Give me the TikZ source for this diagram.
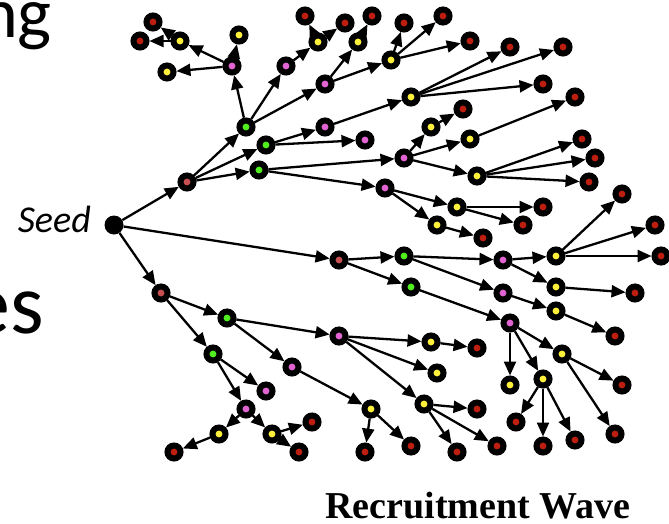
\documentclass[tikz,border=0pt]{standalone}
\usepackage{fontspec}
\usepackage{tikz}
\usetikzlibrary{arrows.meta,positioning}
\setmainfont{Carlito}
\newfontfamily\titlefont{Liberation Serif}
\definecolor{dotred}{RGB}{190,30,15}
\definecolor{dotyellow}{RGB}{255,240,60}
\definecolor{dotpink}{RGB}{225,100,210}
\definecolor{dotgreen}{RGB}{80,240,30}
\definecolor{dotrose}{RGB}{200,80,80}
\tikzset{
  dot/.style={circle, draw=black, line width=6pt, minimum size=13pt, inner sep=0pt},
  rosedot/.style={dot, fill=dotrose},
  greendot/.style={dot, fill=dotgreen},
  pinkdot/.style={dot, fill=dotpink},
  yellowdot/.style={dot, fill=dotyellow},
  reddot/.style={dot, fill=dotred},
  seeddot/.style={circle, fill=black, minimum size=19pt, inner sep=0pt},
  link/.style={-{Triangle[length=14pt,width=12pt]}, line width=2.3pt}
}

\begin{document}
\begin{tikzpicture}[x=1pt, y=-1pt]
    \useasboundingbox (0,0) rectangle (669,523);
    % slide text cut off at the left
    \node[anchor=base east, inner sep=0pt, font=\fontsize{72}{72}\selectfont] (ngtext) at (52,37) {ng};
    \node[anchor=base east, inner sep=0pt, font=\fontsize{86}{86}\selectfont] (estext) at (44,333) {es};
    % seed
    \node[seeddot] (s) at (114,225) {};
    \node[anchor=base east, inner sep=0pt, font=\itshape\fontsize{38}{38}\selectfont] (seedlabel) at (91,232) {Seed};
    % wave 1
    \node[rosedot] (a) at (187,182) {};
    \node[rosedot] (b) at (339,260) {};
    \node[rosedot] (c) at (161,293) {};
    % wave 2
    \node[greendot] (a1) at (246,127) {};
    \node[greendot] (a2) at (266,145) {};
    \node[greendot] (a3) at (259,170) {};
    \node[greendot] (b1) at (404,256) {};
    \node[greendot] (b2) at (411,287) {};
    \node[greendot] (c1) at (227,318) {};
    \node[greendot] (c2) at (213,354) {};
    % wave 3
    \node[pinkdot] (a1a) at (232,66) {};
    \node[pinkdot] (a1b) at (286,66) {};
    \node[pinkdot] (a1c) at (325,84) {};
    \node[pinkdot] (a2a) at (325,127) {};
    \node[pinkdot] (a2b) at (365,140) {};
    \node[pinkdot] (a3a) at (404,158) {};
    \node[pinkdot] (a3b) at (385,188) {};
    \node[pinkdot] (b1a) at (503,260) {};
    \node[pinkdot] (b1b) at (503,293) {};
    \node[pinkdot] (b2a) at (510,323) {};
    \node[pinkdot] (c1a) at (339,336) {};
    \node[pinkdot] (c1b) at (292,367) {};
    \node[pinkdot] (c2a) at (266,391) {};
    \node[pinkdot] (c2b) at (246,409) {};
    % wave 4
    \node[yellowdot] (a1a1) at (239,35) {};
    \node[yellowdot] (a1a2) at (180,41) {};
    \node[yellowdot] (a1a3) at (167,72) {};
    \node[yellowdot] (a1b1) at (318,42) {};
    \node[yellowdot] (a1c1) at (358,42) {};
    \node[yellowdot] (a1c2) at (391,60) {};
    \node[yellowdot] (a2a1) at (411,97) {};
    \node[yellowdot] (a3a1) at (431,127) {};
    \node[yellowdot] (a3a2) at (470,139) {};
    \node[yellowdot] (a3a3) at (477,176) {};
    \node[yellowdot] (a3b1) at (457,207) {};
    \node[yellowdot] (a3b2) at (437,225) {};
    \node[yellowdot] (b1a1) at (556,256) {};
    \node[yellowdot] (b1a2) at (556,287) {};
    \node[yellowdot] (b1b1) at (556,311) {};
    \node[yellowdot] (b2a1) at (510,385) {};
    \node[yellowdot] (b2a2) at (543,379) {};
    \node[yellowdot] (b2a3) at (562,354) {};
    \node[yellowdot] (c1a1) at (431,342) {};
    \node[yellowdot] (c1a2) at (437,373) {};
    \node[yellowdot] (c1a3) at (424,404) {};
    \node[yellowdot] (c1b1) at (371,409) {};
    \node[yellowdot] (c2b1) at (219,434) {};
    \node[yellowdot] (c2b2) at (272,434) {};
    % wave 5
    \node[reddot] (a1a2a) at (140,41) {};
    \node[reddot] (a1a2b) at (153,22) {};
    \node[reddot] (a1b1a) at (305,16) {};
    \node[reddot] (a1b1b) at (345,23) {};
    \node[reddot] (a1c1a) at (372,16) {};
    \node[reddot] (a1c2a) at (404,23) {};
    \node[reddot] (a1c2b) at (443,16) {};
    \node[reddot] (a1c2c) at (470,41) {};
    \node[reddot] (a2a1a) at (510,47) {};
    \node[reddot] (a2a1b) at (563,47) {};
    \node[reddot] (a2a1c) at (543,84) {};
    \node[reddot] (a3a1a) at (463,109) {};
    \node[reddot] (a3a2a) at (575,97) {};
    \node[reddot] (a3a3a) at (582,139) {};
    \node[reddot] (a3a3b) at (595,158) {};
    \node[reddot] (a3a3c) at (589,182) {};
    \node[reddot] (a3b1a) at (543,207) {};
    \node[reddot] (a3b1b) at (523,225) {};
    \node[reddot] (a3b2a) at (483,238) {};
    \node[reddot] (b1a1a) at (622,194) {};
    \node[reddot] (b1a1b) at (655,225) {};
    \node[reddot] (b1a1c) at (661,256) {};
    \node[reddot] (b1a2a) at (635,293) {};
    \node[reddot] (b1b1a) at (615,336) {};
    \node[reddot] (b2a2a) at (516,422) {};
    \node[reddot] (b2a2b) at (543,446) {};
    \node[reddot] (b2a2c) at (575,440) {};
    \node[reddot] (b2a3a) at (622,385) {};
    \node[reddot] (b2a3b) at (615,434) {};
    \node[reddot] (c1a1a) at (477,348) {};
    \node[reddot] (c1a3a) at (477,409) {};
    \node[reddot] (c1a3b) at (457,452) {};
    \node[reddot] (c1a3c) at (497,446) {};
    \node[reddot] (c1b1a) at (365,452) {};
    \node[reddot] (c1b1b) at (411,446) {};
    \node[reddot] (c2b1a) at (174,452) {};
    \node[reddot] (c2b2a) at (312,422) {};
    \node[reddot] (c2b2b) at (299,452) {};
    % recruitment links
    \draw[link] (s) edge (a) edge (b) edge (c);
    \draw[link] (a) edge (a1) edge (a2) edge (a3);
    \draw[link] (b) edge (b1) edge (b2);
    \draw[link] (c) edge (c1) edge (c2);
    \draw[link] (a1) edge (a1a) edge (a1b) edge (a1c);
    \draw[link] (a2) edge (a2a) edge (a2b);
    \draw[link] (a3) edge (a3a) edge (a3b);
    \draw[link] (b1) edge (b1a) edge (b1b);
    \draw[link] (b2) edge (b2a);
    \draw[link] (c1) edge (c1a) edge (c1b);
    \draw[link] (c2) edge (c2a) edge (c2b);
    \draw[link] (a1a) edge (a1a1) edge (a1a2) edge (a1a3);
    \draw[link] (a1b) edge (a1b1);
    \draw[link] (a1c) edge (a1c1) edge (a1c2);
    \draw[link] (a2a) edge (a2a1);
    \draw[link] (a3a) edge (a3a1) edge (a3a2) edge (a3a3);
    \draw[link] (a3b) edge (a3b1) edge (a3b2);
    \draw[link] (b1a) edge (b1a1) edge (b1a2);
    \draw[link] (b1b) edge (b1b1);
    \draw[link] (b2a) edge (b2a1) edge (b2a2) edge (b2a3);
    \draw[link] (c1a) edge (c1a1) edge (c1a2) edge (c1a3);
    \draw[link] (c1b) edge (c1b1);
    \draw[link] (c2b) edge (c2b1) edge (c2b2);
    \draw[link] (a1a2) edge (a1a2a) edge (a1a2b);
    \draw[link] (a1b1) edge (a1b1a) edge (a1b1b);
    \draw[link] (a1c1) edge (a1c1a);
    \draw[link] (a1c2) edge (a1c2a) edge (a1c2b) edge (a1c2c);
    \draw[link] (a2a1) edge (a2a1a) edge (a2a1b) edge (a2a1c);
    \draw[link] (a3a1) edge (a3a1a);
    \draw[link] (a3a2) edge (a3a2a);
    \draw[link] (a3a3) edge (a3a3a) edge (a3a3b) edge (a3a3c);
    \draw[link] (a3b1) edge (a3b1a) edge (a3b1b);
    \draw[link] (a3b2) edge (a3b2a);
    \draw[link] (b1a1) edge (b1a1a) edge (b1a1b) edge (b1a1c);
    \draw[link] (b1a2) edge (b1a2a);
    \draw[link] (b1b1) edge (b1b1a);
    \draw[link] (b2a2) edge (b2a2a) edge (b2a2b) edge (b2a2c);
    \draw[link] (b2a3) edge (b2a3a) edge (b2a3b);
    \draw[link] (c1a1) edge (c1a1a);
    \draw[link] (c1a3) edge (c1a3a) edge (c1a3b) edge (c1a3c);
    \draw[link] (c1b1) edge (c1b1a) edge (c1b1b);
    \draw[link] (c2b1) edge (c2b1a);
    \draw[link] (c2b2) edge (c2b2a) edge (c2b2b);
    % caption
    \node[anchor=base, inner sep=0pt, font=\titlefont\bfseries\fontsize{38}{38}\selectfont] (wave) at (478,518) {Recruitment Wave};
\end{tikzpicture}
\end{document}
